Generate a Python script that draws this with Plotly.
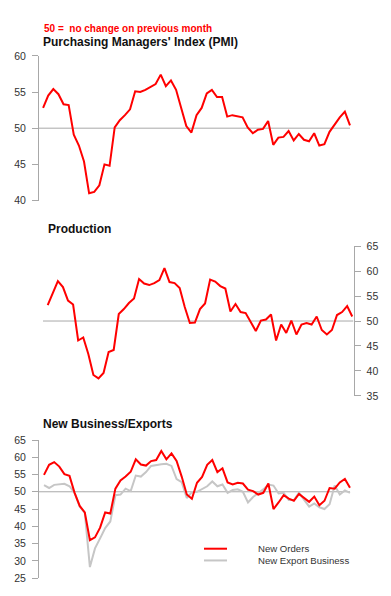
import plotly.graph_objects as go

# Page geometry: the browser body keeps its default 8px margin, so the figure
# is laid out in page pixels and shifted by that margin.
PAGE_OX, PAGE_OY = 8, 8
W, H = 375, 580

months = list(range(61))

pmi = [52.8, 54.5, 55.4, 54.7, 53.3, 53.2, 49.1, 47.6, 45.4, 41.0,
       41.2, 42.1, 45.0, 44.8, 50.1, 51.1, 51.8, 52.6, 55.1, 55.0,
       55.3, 55.7, 56.1, 57.4, 55.8, 56.6, 55.3, 52.8, 50.3, 49.4,
       51.8, 52.8, 54.8, 55.3, 54.3, 54.3, 51.6, 51.8, 51.7, 51.5,
       50.1, 49.3, 49.8, 49.9, 51.0, 47.7, 48.7, 48.8, 49.6, 48.3,
       49.2, 48.4, 48.2, 49.3, 47.6, 47.8, 49.5, 50.5, 51.5, 52.3, 50.4]

production = [53.2, 55.6, 58.0, 56.8, 54.1, 53.3, 46.1, 46.7, 43.4, 39.2,
              38.5, 39.6, 43.8, 44.2, 51.4, 52.4, 53.6, 54.5, 58.4, 57.5,
              57.2, 57.6, 58.2, 60.6, 57.8, 57.6, 56.6, 52.8, 49.6, 49.7,
              52.4, 53.5, 58.3, 57.9, 57.0, 56.5, 51.9, 53.4, 51.8, 51.6,
              49.9, 48.0, 50.1, 50.3, 51.3, 46.1, 49.3, 47.6, 50.1, 47.3,
              49.3, 49.6, 49.3, 50.9, 48.2, 47.3, 48.2, 51.2, 51.8, 53.0, 50.9]

new_orders = [54.9, 57.8, 58.6, 57.3, 55.1, 54.6, 49.7, 45.9, 44.0, 36.0,
              36.8, 39.6, 44.0, 43.7, 50.9, 53.3, 54.4, 55.8, 59.4, 57.9,
              57.6, 58.9, 59.2, 61.8, 59.4, 61.1, 58.9, 54.4, 49.2, 48.0,
              52.6, 54.3, 57.8, 59.2, 55.7, 56.8, 52.7, 52.1, 52.6, 52.4,
              50.6, 50.2, 49.2, 49.7, 52.4, 45.0, 46.9, 49.0, 48.0, 47.4,
              49.4, 48.3, 47.1, 48.6, 46.1, 47.4, 51.1, 50.9, 52.7, 53.7, 51.2]

new_export = [51.9, 51.1, 52.0, 52.1, 52.3, 51.6, 49.7, 45.7, 43.9, 28.2,
              33.6, 36.5, 39.5, 41.4, 49.0, 49.2, 50.9, 50.2, 54.7, 54.4,
              55.7, 57.5, 57.8, 58.0, 58.1, 57.5, 53.7, 52.8, 48.2, 49.9,
              50.0, 50.9, 51.6, 53.0, 51.6, 52.1, 49.7, 50.5, 50.7, 50.0,
              46.9, 48.5, 49.5, 50.7, 52.1, 51.8, 49.5, 49.7, 47.6, 47.6,
              49.7, 47.8, 45.7, 46.6, 45.5, 45.0, 46.4, 51.8, 49.2, 50.4, 49.7]

pmi_ticks = [40, 45, 50, 55, 60]
prod_ticks = [35, 40, 45, 50, 55, 60, 65]
nb_ticks = [25, 30, 35, 40, 45, 50, 55, 60, 65]

RED = "#ff0000"
GREY = "#c6c6c6"
AXIS = "#a8a8a8"
FONT = "Liberation Sans, Arial, sans-serif"


def px(x):
    return (x - PAGE_OX) / W


def py(y):
    return 1 - (y - PAGE_OY) / H


fig = go.Figure()

fig.add_trace(go.Scatter(x=months, y=pmi, mode="lines", line=dict(color=RED, width=2),
                         xaxis="x", yaxis="y", showlegend=False, name="PMI"))
fig.add_trace(go.Scatter(x=months, y=production, mode="lines", line=dict(color=RED, width=2),
                         xaxis="x2", yaxis="y2", showlegend=False, name="Production"))
fig.add_trace(go.Scatter(x=months, y=new_export, mode="lines", line=dict(color=GREY, width=2),
                         xaxis="x3", yaxis="y3", showlegend=False, name="New Export Business"))
fig.add_trace(go.Scatter(x=months, y=new_orders, mode="lines", line=dict(color=RED, width=2),
                         xaxis="x3", yaxis="y3", showlegend=False, name="New Orders"))

xcommon = dict(visible=False, showgrid=False, zeroline=False, fixedrange=True)
ycommon = dict(showgrid=False, zeroline=False, showline=True, linecolor=AXIS, linewidth=1,
               ticks="outside", ticklen=6, tickcolor=AXIS, tickwidth=1,
               ticklabelstandoff=4,
               tickfont=dict(family=FONT, size=10.5, color="#333333"), fixedrange=True)

fig.update_layout(
    width=W, height=H,
    margin=dict(l=0, r=0, t=0, b=0),
    paper_bgcolor="white", plot_bgcolor="white",
    font=dict(family=FONT),
    showlegend=False,
    xaxis=dict(domain=[px(39), px(351)], range=[-0.8, 60.2], anchor="y", **xcommon),
    yaxis=dict(domain=[py(198.5), py(50.7)], range=[40, 60], tickvals=pmi_ticks,
               anchor="x", side="left", **ycommon),
    xaxis2=dict(domain=[px(43), px(353.5)], range=[-0.93, 60.25], anchor="y2", **xcommon),
    yaxis2=dict(domain=[py(398), py(245)], range=[35, 65], tickvals=prod_ticks,
                anchor="x2", side="right", **ycommon),
    xaxis3=dict(domain=[px(39), px(351)], range=[-0.98, 60.2], anchor="y3", **xcommon),
    yaxis3=dict(domain=[py(584), py(443)], range=[25, 65], tickvals=nb_ticks,
                anchor="x3", side="left", **ycommon),
)

# 50 = no change reference lines
for xr, yr, x0, x1 in [("x", "y", -0.8, 60.0), ("x2", "y2", -0.93, 60.25), ("x3", "y3", -0.98, 60.0)]:
    fig.add_shape(type="line", xref=xr, yref=yr, x0=x0, x1=x1, y0=50, y1=50,
                  line=dict(color=AXIS, width=1), layer="below")

# Titles
fig.add_annotation(text="<b>50 =  no change on previous month</b>", xref="paper", yref="paper",
                   x=px(42), y=py(22.5), xanchor="left", yanchor="middle", showarrow=False,
                   font=dict(family=FONT, size=10, color=RED))
fig.add_annotation(text="<b>Purchasing Managers' Index (PMI)</b>", xref="paper", yref="paper",
                   x=px(41), y=py(37), xanchor="left", yanchor="middle", showarrow=False,
                   font=dict(family=FONT, size=12, color="#111111"))
fig.add_annotation(text="<b>Production</b>", xref="paper", yref="paper",
                   x=px(46), y=py(228), xanchor="left", yanchor="middle", showarrow=False,
                   font=dict(family=FONT, size=12, color="#111111"))
fig.add_annotation(text="<b>New Business/Exports</b>", xref="paper", yref="paper",
                   x=px(41), y=py(427), xanchor="left", yanchor="middle", showarrow=False,
                   font=dict(family=FONT, size=12, color="#111111"))

# Legend
for label, color, yy in [("New Orders", RED, 554), ("New Export Business", GREY, 566)]:
    fig.add_shape(type="line", xref="paper", yref="paper", x0=px(204), x1=px(227),
                  y0=py(yy), y1=py(yy), line=dict(color=color, width=2))
    fig.add_annotation(text=label, xref="paper", yref="paper", x=px(256), y=py(yy),
                       xanchor="left", yanchor="middle", showarrow=False,
                       font=dict(family=FONT, size=9.6, color="#333333"))

fig.write_html("out.html")
